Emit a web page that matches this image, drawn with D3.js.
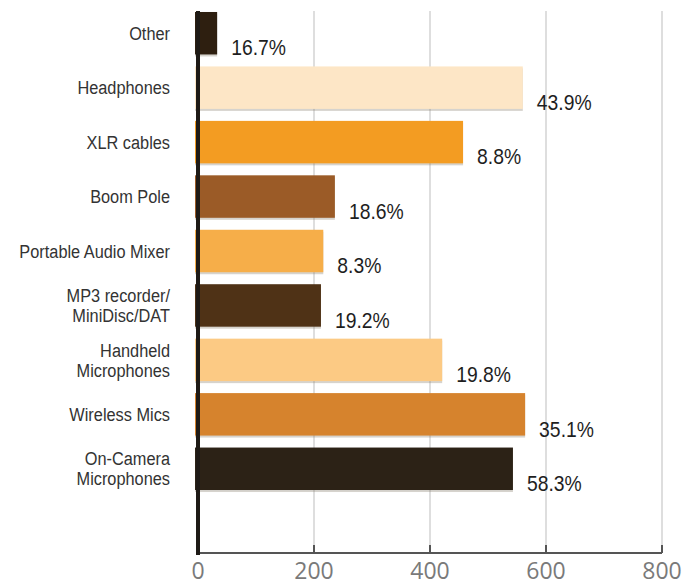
<!DOCTYPE html>
<html>
<head>
<meta charset="utf-8">
<script src="https://cdn.jsdelivr.net/npm/d3@7"></script>
<style>
  body { margin: 0; background: #fff; }
</style>
</head>
<body>
<div id="canvas"></div>
<script>
"use strict"

/* canvas size, same as the reference picture */
let svgWidth = 691;
let svgHeight = 586;

/* data */
let categories = ["Other", "Headphones", "XLR cables", "Boom Pole", "Portable Audio Mixer",
    "MP3 recorder/\nMiniDisc/DAT", "Handheld\nMicrophones", "Wireless Mics", "On-Camera\nMicrophones"];
let values = [33, 560, 457, 236, 216, 212, 421, 564, 543];
let percentLabels = ["16.7%", "43.9%", "8.8%", "18.6%", "8.3%", "19.2%", "19.8%", "35.1%", "58.3%"];
let barColors = ["#2e1f10", "#fde6c6", "#f39c22", "#9b5b27", "#f6ae49", "#4f3216", "#fcca84", "#d6832d", "#2c2216"];
let tickValues = [0, 200, 400, 600, 800];

/* no narrow font installed, so Liberation Sans is squeezed sideways instead */
let narrowFont = "'Liberation Sans', Arial, sans-serif";
let squeeze = 0.86;

let svg = d3.select("#canvas")
    .append("svg")
    .attr("width", svgWidth)
    .attr("height", svgHeight);

let xScale = d3.scaleLinear()
    .domain([0, 800])
    .range([198, 662]);

let yScale = d3.scaleBand()
    .domain(categories)
    .range([6, 496])
    .paddingInner(0.22)
    .paddingOuter(0.11);

let axisY = 553;

/* light grid lines behind the bars */
svg.selectAll(".grid")
    .data(tickValues.slice(1))
    .join("line")
    .attr("class", "grid")
    .attr("x1", d => xScale(d))
    .attr("x2", d => xScale(d))
    .attr("y1", 11)
    .attr("y2", axisY)
    .attr("stroke", "#dedede")
    .attr("stroke-width", 2);

/* soft shadow under each bar */
svg.selectAll(".shadow")
    .data(values)
    .join("rect")
    .attr("class", "shadow")
    .attr("x", xScale(0) - 3)
    .attr("y", (d, i) => yScale(categories[i]) + 2)
    .attr("width", d => xScale(d) - xScale(0) + 3)
    .attr("height", yScale.bandwidth())
    .attr("fill", "#8a8070")
    .attr("opacity", 0.35);

svg.selectAll(".bar")
    .data(values)
    .join("rect")
    .attr("class", "bar")
    .attr("x", xScale(0) - 3)
    .attr("y", (d, i) => yScale(categories[i]))
    .attr("width", d => xScale(d) - xScale(0) + 3)
    .attr("height", yScale.bandwidth())
    .attr("fill", (d, i) => barColors[i]);

/* percentages sit right of the bar end, near its bottom */
svg.selectAll(".pct")
    .data(values)
    .join("text")
    .attr("class", "pct")
    .attr("transform", (d, i) => "translate(" + (xScale(d) + 14) + "," +
        (yScale(categories[i]) + yScale.bandwidth() + 1) + ") scale(" + squeeze + ",1)")
    .attr("font-family", narrowFont)
    .attr("font-size", 22.5)
    .attr("fill", "#1e1e1e")
    .text((d, i) => percentLabels[i]);

/* category labels, some on two lines */
let catLabels = svg.selectAll(".cat")
    .data(categories)
    .join("text")
    .attr("class", "cat")
    .attr("text-anchor", "end")
    .attr("font-family", narrowFont)
    .attr("font-size", 19)
    .attr("fill", "#333");

catLabels.each(function (d) {
    let lines = d.split("\n");
    let mid = yScale(d) + yScale.bandwidth() / 2;
    let lineGap = 20;
    let firstY = mid - (lines.length - 1) * lineGap / 2;
    d3.select(this)
        .attr("transform", "translate(170," + firstY + ") scale(" + squeeze + ",1)")
        .selectAll("tspan")
        .data(lines)
        .join("tspan")
        .attr("x", 0)
        .attr("y", (l, j) => j * lineGap)
        .attr("dy", "0.35em")
        .text(l => l);
});

/* bottom axis: line, upward ticks and big grey labels */
svg.append("line")
    .attr("x1", xScale(0))
    .attr("x2", xScale(800))
    .attr("y1", axisY)
    .attr("y2", axisY)
    .attr("stroke", "#555")
    .attr("stroke-width", 2);

svg.selectAll(".tick")
    .data(tickValues.slice(1))
    .join("line")
    .attr("class", "tick")
    .attr("x1", d => xScale(d))
    .attr("x2", d => xScale(d))
    .attr("y1", axisY - 8)
    .attr("y2", axisY)
    .attr("stroke", "#555")
    .attr("stroke-width", 2);

svg.selectAll(".tickLabel")
    .data(tickValues)
    .join("text")
    .attr("class", "tickLabel")
    .attr("x", d => xScale(d))
    .attr("y", 579)
    .attr("text-anchor", "middle")
    .attr("font-family", "'Open Sans', sans-serif")
    .attr("font-size", 23)
    .attr("fill", "#7a7a7a")
    .text(d => d);

/* thick dark value axis at zero */
svg.append("line")
    .attr("x1", xScale(0))
    .attr("x2", xScale(0))
    .attr("y1", 11)
    .attr("y2", axisY + 2)
    .attr("stroke", "#1e1a16")
    .attr("stroke-width", 4);
</script>
</body>
</html>
